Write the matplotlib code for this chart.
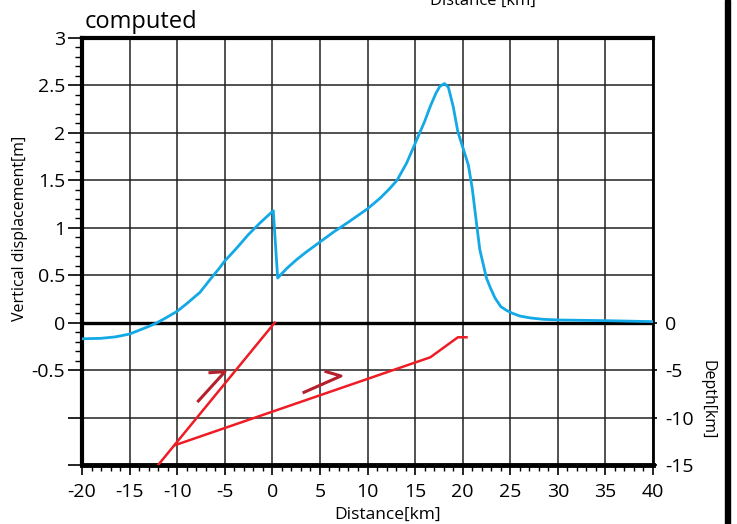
import matplotlib
matplotlib.use("Agg")
import matplotlib.pyplot as plt
from matplotlib.ticker import FixedLocator, MultipleLocator
from matplotlib.patches import Rectangle

plt.rcParams['font.family'] = ['Open Sans', 'DejaVu Sans']
plt.rcParams['axes.unicode_minus'] = False

# computed vertical surface displacement along the profile
dist_km = [-20, -18, -16.5, -15, -14, -13, -12.1, -11.2, -10, -9, -7.6, -6.5, -5.6,
           -5, -3.8, -2.5, -1.2, 0.1, 0.56, 1.5, 2.5, 3.5, 5, 6.5, 8, 10, 11.3,
           12.3, 13.1, 14.1, 15.1, 16, 16.6, 17.2, 17.6, 18.1, 18.5, 19.0, 19.5,
           20.1, 20.6, 21.0, 21.5, 21.8, 22.5, 22.9, 23.4, 24, 24.6, 25.2, 26,
           27.1, 28.5, 30.2, 35.1, 40]
uplift_m = [-0.17, -0.165, -0.15, -0.12, -0.08, -0.04, 0.0, 0.05, 0.12, 0.2, 0.32,
            0.46, 0.57, 0.65, 0.78, 0.93, 1.06, 1.18, 0.47, 0.57, 0.66, 0.74, 0.85,
            0.96, 1.06, 1.2, 1.31, 1.41, 1.50, 1.68, 1.91, 2.12, 2.28, 2.42, 2.49,
            2.52, 2.48, 2.28, 2.01, 1.82, 1.66, 1.42, 1.01, 0.77, 0.47, 0.37, 0.26,
            0.17, 0.13, 0.10, 0.07, 0.05, 0.035, 0.028, 0.021, 0.011]

# fault traces in the cross-section (km)
fault1_x = [0.25, -12.0]
fault1_z = [0, -15]
fault2_x = [-10.2, 16.6, 19.5, 20.4]
fault2_z = [-12.9, -3.65, -1.54, -1.54]

# slip direction arrows (barb, tip, tail)
arrow1_x = [-6.55, -4.97, -7.77]
arrow1_z = [-5.27, -5.16, -8.25]
arrow2_x = [5.64, 7.21, 3.33]
arrow2_z = [-5.16, -5.62, -7.34]

left_ticks = [3, 2.5, 2, 1.5, 1, 0.5, 0, -0.5, -1, -1.5]
left_labels = ['3', '2.5', '2', '1.5', '1', '0.5', '0', '-0.5', '', '']
depth_ticks = [0, -5, -10, -15]
x_ticks = list(range(-20, 41, 5))

fig = plt.figure(figsize=(7.37, 5.24), dpi=100)
ax = fig.add_axes([82 / 737, 59 / 524, 571 / 737, 427 / 524])

ax.set_xlim(-20, 40)
ax.set_ylim(-1.5, 3)

ax.grid(True, color='#222222', lw=1.1)
ax.set_axisbelow(True)
ax.axhline(0, color='black', lw=2.4, zorder=2)

ax.plot(dist_km, uplift_m, color='#12a9e6', lw=2.0, zorder=3)

ax.set_xticks(x_ticks)
ax.set_xticklabels([str(v) for v in x_ticks])
ax.xaxis.set_minor_locator(MultipleLocator(1))
ax.set_yticks(left_ticks)
ax.set_yticklabels(left_labels)
ax.yaxis.set_minor_locator(FixedLocator([v / 10 for v in range(-5, 31) if v % 5]))

ax.tick_params(axis='x', which='major', direction='out', length=7, width=1.2,
               labelsize=14, pad=6)
ax.tick_params(axis='x', which='minor', direction='out', length=4, width=1)
ax.tick_params(axis='y', which='major', direction='out', length=10, width=1.2,
               labelsize=14, pad=2)
ax.tick_params(axis='y', which='minor', direction='out', length=5, width=1)

for side, w in [('top', 3), ('bottom', 3.5), ('left', 3), ('right', 2)]:
    ax.spines[side].set_linewidth(w)

ax.set_ylabel('Vertical displacement[m]', fontsize=11.5)
ax.yaxis.set_label_coords(-0.094, 0.555)
ax.set_xlabel('Distance[km]', fontsize=12.5)
ax.xaxis.set_label_coords(0.535, -0.099)

# depth axis shares the lower part of the frame
ax2 = ax.twinx()
ax2.set_ylim(-15, 30)
ax2.set_yticks(depth_ticks)
ax2.set_yticklabels([str(v) for v in depth_ticks])
ax2.tick_params(axis='y', direction='out', length=3, width=1.2, labelsize=14, pad=6)
for s in ax2.spines.values():
    s.set_visible(False)
ax2.plot(fault1_x, fault1_z, color='#ee1c25', lw=1.8)
ax2.plot(fault2_x, fault2_z, color='#ee1c25', lw=1.8)
ax2.plot(arrow1_x, arrow1_z, color='#b5202d', lw=2.2)
ax2.plot(arrow2_x, arrow2_z, color='#b5202d', lw=2.2)
ax2.set_ylabel('Depth[km]', fontsize=11.5, rotation=-90)
ax2.yaxis.set_label_coords(1.11, 0.152)

fig.text(85 / 737, 1 - 28 / 524, 'computed', fontsize=17, ha='left', va='baseline')
fig.text(483 / 737, 1 - 5 / 524, 'Distance [km]', fontsize=12, ha='center', va='baseline')
fig.add_artist(Rectangle((725 / 737, 0), 5 / 737, 1, transform=fig.transFigure,
                         color='black'))

fig.savefig('out.png', dpi=100)
